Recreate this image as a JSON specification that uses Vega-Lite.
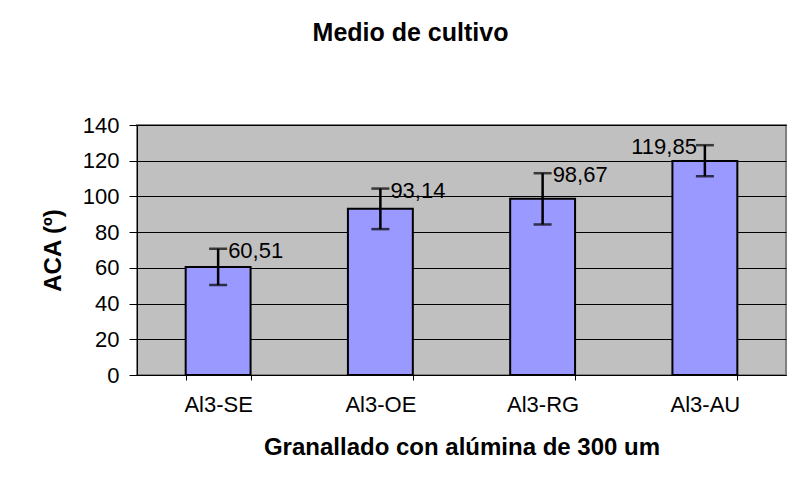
{
  "$schema": "https://vega.github.io/schema/vega-lite/v6.json",
  "autosize": "none",
  "width": 649,
  "height": 250,
  "padding": {"left": 137, "top": 125, "right": 14, "bottom": 113},
  "background": "white",
  "title": {
    "text": "Medio de cultivo",
    "font": "Liberation Sans",
    "fontSize": 25,
    "fontWeight": "bold",
    "color": "black",
    "anchor": "middle",
    "offset": 68,
    "dx": -51
  },
  "data": {
    "values": [
      {"grupo": "Al3-SE", "aca": 60.51, "lower": 50.4, "upper": 70.7, "label": "60,51", "pos": "right"},
      {"grupo": "Al3-OE", "aca": 93.14, "lower": 81.7, "upper": 104.4, "label": "93,14", "pos": "right"},
      {"grupo": "Al3-RG", "aca": 98.67, "lower": 84.3, "upper": 113.0, "label": "98,67", "pos": "right"},
      {"grupo": "Al3-AU", "aca": 119.85, "lower": 111.3, "upper": 128.7, "label": "119,85", "pos": "left"}
    ]
  },
  "encoding": {
    "x": {
      "field": "grupo",
      "type": "nominal",
      "sort": null,
      "scale": {"paddingInner": 0.6, "paddingOuter": 0.3},
      "axis": {
        "title": "Granallado con alúmina de 300 um",
        "labelAngle": 0,
        "labelFont": "Liberation Sans",
        "labelFontSize": 22,
        "labelColor": "black",
        "labelPadding": 14,
        "tickBand": "extent",
        "tickSize": 5,
        "tickColor": "black",
        "domainColor": "black",
        "domainWidth": 1,
        "titleFont": "Liberation Sans",
        "titleFontSize": 24,
        "titleFontWeight": "bold",
        "titleColor": "black",
        "titlePadding": 20
      }
    }
  },
  "layer": [
    {
      "mark": {"type": "bar", "fill": "#9999FF", "stroke": "black", "strokeWidth": 2},
      "encoding": {
        "y": {
          "field": "aca",
          "type": "quantitative",
          "scale": {"domain": [0, 140], "nice": false},
          "axis": {
            "title": "ACA (º)",
            "values": [0, 20, 40, 60, 80, 100, 120, 140],
            "labelOverlap": false,
            "grid": true,
            "gridColor": "black",
            "gridWidth": 1,
            "gridOpacity": 1,
            "labelFont": "Liberation Sans",
            "labelFontSize": 22,
            "labelColor": "black",
            "labelPadding": 10,
            "tickSize": 8,
            "tickColor": "black",
            "domainColor": "black",
            "domainWidth": 1,
            "titleFont": "Liberation Sans",
            "titleFontSize": 24,
            "titleFontWeight": "bold",
            "titleColor": "black",
            "titlePadding": 17
          }
        }
      }
    },
    {
      "mark": {"type": "rule", "color": "black", "strokeWidth": 2.5},
      "encoding": {
        "y": {"field": "lower", "type": "quantitative", "axis": {"title": "ACA (º)", "values": [0, 20, 40, 60, 80, 100, 120, 140], "labelOverlap": false}},
        "y2": {"field": "upper"}
      }
    },
    {
      "mark": {"type": "tick", "color": "black", "size": 18, "thickness": 2.5, "orient": "horizontal"},
      "encoding": {"y": {"field": "lower", "type": "quantitative", "axis": {"title": "ACA (º)", "values": [0, 20, 40, 60, 80, 100, 120, 140], "labelOverlap": false}}}
    },
    {
      "mark": {"type": "tick", "color": "black", "size": 18, "thickness": 2.5, "orient": "horizontal"},
      "encoding": {"y": {"field": "upper", "type": "quantitative", "axis": {"title": "ACA (º)", "values": [0, 20, 40, 60, 80, 100, 120, 140], "labelOverlap": false}}}
    },
    {
      "transform": [{"filter": "datum.pos == 'right'"}],
      "mark": {"type": "text", "align": "left", "baseline": "middle", "dx": 10, "dy": 2, "font": "Liberation Sans", "fontSize": 22, "color": "black"},
      "encoding": {
        "y": {"field": "upper", "type": "quantitative", "axis": {"title": "ACA (º)", "values": [0, 20, 40, 60, 80, 100, 120, 140], "labelOverlap": false}},
        "text": {"field": "label"}
      }
    },
    {
      "transform": [{"filter": "datum.pos == 'left'"}],
      "mark": {"type": "text", "align": "right", "baseline": "middle", "dx": -8, "dy": 2, "font": "Liberation Sans", "fontSize": 22, "color": "black"},
      "encoding": {
        "y": {"field": "upper", "type": "quantitative", "axis": {"title": "ACA (º)", "values": [0, 20, 40, 60, 80, 100, 120, 140], "labelOverlap": false}},
        "text": {"field": "label"}
      }
    }
  ],
  "config": {
    "view": {"fill": "#C0C0C0", "stroke": "#808080", "strokeWidth": 2}
  }
}
